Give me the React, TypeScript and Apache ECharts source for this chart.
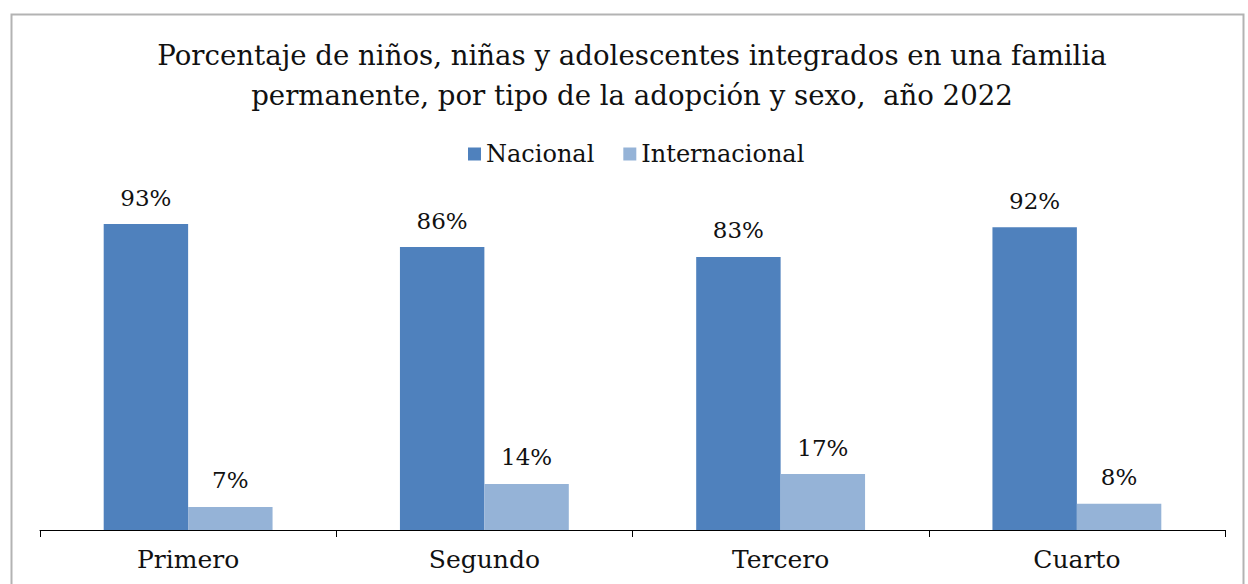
import React, { useEffect, useRef } from "react";
import * as echarts from "echarts";

const categories = ["Primero", "Segundo", "Tercero", "Cuarto"];
const nacional = [93, 86, 83, 92];
const internacional = [7, 14, 17, 8];
const titleText =
  "Porcentaje de niños, niñas y adolescentes integrados en una familia\npermanente, por tipo de la adopción y sexo,  año 2022";

const FONT = "'DejaVu Serif', serif";

export default function App() {
  const ref = useRef<HTMLDivElement>(null);
  useEffect(() => {
    document.body.style.margin = "0";
    const chart = echarts.init(ref.current!, null, { renderer: "svg" });
    const label = {
      show: true,
      position: "top",
      distance: 15,
      formatter: "{c}%",
      fontFamily: FONT,
      fontSize: 23,
      color: "#111",
    };
    chart.setOption({
      animation: false,
      backgroundColor: "#ffffff",
      graphic: [
        {
          type: "rect",
          shape: { x: 11.5, y: 14.5, width: 1232, height: 600 },
          style: { fill: "none", stroke: "#b3b3b3", lineWidth: 2 },
          silent: true,
          z: -1,
        },
      ],
      title: {
        text: titleText,
        left: 627,
        top: 30,
        textAlign: "center",
        textStyle: {
          fontFamily: FONT,
          fontSize: 27.6,
          fontWeight: "normal",
          color: "#111",
          lineHeight: 40,
        },
      },
      legend: {
        top: 137,
        left: 463,
        itemWidth: 13,
        itemHeight: 13,
        itemGap: 29,
        icon: "rect",
        textStyle: { fontFamily: FONT, fontSize: 24, color: "#111" },
        data: ["Nacional", "Internacional"],
      },
      grid: { left: 40, right: 23, top: 201, bottom: 54 },
      xAxis: {
        type: "category",
        data: categories,
        axisLine: { lineStyle: { color: "#000", width: 1 } },
        axisTick: { show: true, length: 7, lineStyle: { color: "#000" } },
        axisLabel: { fontFamily: FONT, fontSize: 25, color: "#111", margin: 17 },
      },
      yAxis: {
        type: "value",
        min: 0,
        max: 100,
        show: false,
        splitLine: { show: false },
      },
      series: [
        {
          name: "Nacional",
          type: "bar",
          data: nacional,
          barGap: "0%",
          barCategoryGap: "43%",
          itemStyle: { color: "#4F81BD" },
          label,
        },
        {
          name: "Internacional",
          type: "bar",
          data: internacional,
          itemStyle: { color: "#95B3D7" },
          label,
        },
      ],
    });
    return () => chart.dispose();
  }, []);
  return <div ref={ref} style={{ width: 1248, height: 584 }} />;
}
